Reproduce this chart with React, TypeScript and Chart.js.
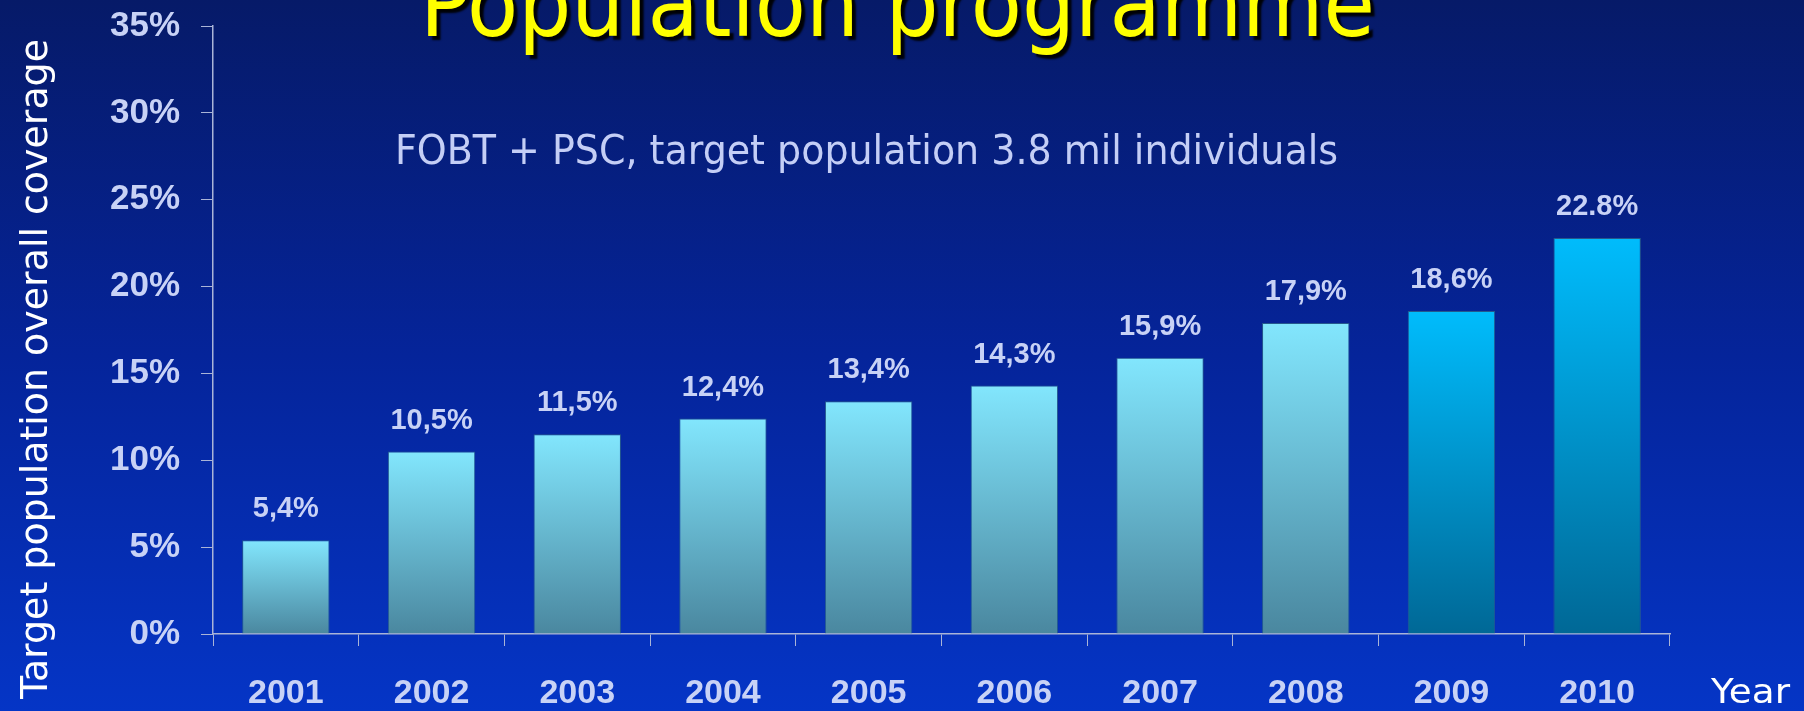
import React, { useEffect, useRef } from "react";
import { Chart, registerables } from "chart.js";

Chart.register(...registerables);

// ---- data ----
const years = ["2001", "2002", "2003", "2004", "2005", "2006", "2007", "2008", "2009", "2010"];
const coverage = [5.4, 10.5, 11.5, 12.4, 13.4, 14.3, 15.9, 17.9, 18.6, 22.8];
const valueLabels = ["5,4%", "10,5%", "11,5%", "12,4%", "13,4%", "14,3%", "15,9%", "17,9%", "18,6%", "22.8%"];
const highlighted = [false, false, false, false, false, false, false, false, true, true];
const yMin = 0;
const yMax = 35;
const yStep = 5;
const titleText = "Population programme";
const subtitleText = "FOBT + PSC, target population 3.8 mil individuals";
const yAxisTitle = "Target population overall coverage";
const xAxisTitle = "Year";

const LAVENDER = "rgb(200,210,246)";
const AXIS = "rgb(170,180,215)";
const CONDENSED = '"DejaVu Sans Condensed", "Liberation Sans Narrow", "DejaVu Sans", sans-serif';

function fitText(
  ctx: CanvasRenderingContext2D,
  text: string,
  x: number,
  y: number,
  width: number,
  font: string,
  color: string,
  shadow = false
) {
  ctx.save();
  ctx.font = font;
  const w = ctx.measureText(text).width;
  ctx.translate(x, y);
  ctx.scale(width / w, 1);
  ctx.textAlign = "left";
  ctx.textBaseline = "alphabetic";
  if (shadow) {
    ctx.shadowColor = "rgba(0,0,0,0.95)";
    ctx.shadowOffsetX = 4;
    ctx.shadowOffsetY = 4;
    ctx.shadowBlur = 2;
  }
  ctx.fillStyle = color;
  ctx.fillText(text, 0, 0);
  ctx.restore();
}

const textPlugin = {
  id: "slideText",
  afterDatasetsDraw(chart: any) {
    const ctx: CanvasRenderingContext2D = chart.ctx;
    // value labels above bars
    const meta = chart.getDatasetMeta(0);
    ctx.save();
    ctx.font = 'bold 29px "Liberation Sans", Arial, sans-serif';
    ctx.fillStyle = LAVENDER;
    ctx.textAlign = "center";
    ctx.textBaseline = "middle";
    meta.data.forEach((el: any, i: number) => {
      ctx.fillText(valueLabels[i], el.x, el.y - 31);
    });
    ctx.restore();

    // title
    fitText(ctx, titleText, 420, 36, 955, `92px ${CONDENSED}`, "#ffff00", true);
    // subtitle
    fitText(ctx, subtitleText, 395, 164, 943, `40px ${CONDENSED}`, "rgb(196,206,246)");
    // x axis title
    fitText(ctx, xAxisTitle, 1711, 703, 79, '34px "DejaVu Sans", Verdana, sans-serif', "#ffffff");

    // y axis title (rotated)
    ctx.save();
    ctx.font = '38px "DejaVu Sans", Verdana, sans-serif';
    const w = ctx.measureText(yAxisTitle).width;
    ctx.translate(47, 369);
    ctx.rotate(-Math.PI / 2);
    ctx.scale(660 / w, 1);
    ctx.textAlign = "center";
    ctx.textBaseline = "alphabetic";
    ctx.fillStyle = "#ffffff";
    ctx.fillText(yAxisTitle, 0, 0);
    ctx.restore();
  },
};

function barGradient(context: any) {
  const chart = context.chart;
  const yScale = chart.scales?.y;
  const i = context.dataIndex;
  const hi = highlighted[i];
  const top = hi ? "#00bcfc" : "#82e6fd";
  const bottom = hi ? "#006896" : "#4a879f";
  if (!yScale || i === undefined) return top;
  const yTop = yScale.getPixelForValue(coverage[i]);
  const yBottom = yScale.getPixelForValue(0);
  if (!isFinite(yTop) || !isFinite(yBottom) || yTop === yBottom) return top;
  const g = chart.ctx.createLinearGradient(0, yTop, 0, yBottom);
  g.addColorStop(0, top);
  g.addColorStop(1, bottom);
  return g;
}

export default function App() {
  const canvasRef = useRef<HTMLCanvasElement | null>(null);

  useEffect(() => {
    if (!canvasRef.current) return;
    const chart = new Chart(canvasRef.current, {
      type: "bar",
      data: {
        labels: years,
        datasets: [
          {
            data: coverage,
            backgroundColor: barGradient,
            borderColor: "rgba(40,95,140,0.9)",
            borderWidth: 1,
            barPercentage: 0.6,
            categoryPercentage: 1,
          },
        ],
      },
      options: {
        animation: false,
        responsive: true,
        maintainAspectRatio: false,
        layout: { padding: { top: 26, right: 134, left: 0, bottom: 0 } },
        plugins: {
          legend: { display: false },
          tooltip: { enabled: false },
          title: { display: false },
        },
        scales: {
          x: {
            type: "category",
            offset: true,
            afterFit: (s: any) => {
              s.height = 77;
              s.paddingLeft = 0;
              s.paddingRight = 0;
            },
            grid: {
              display: true,
              offset: true,
              drawOnChartArea: false,
              drawTicks: true,
              tickLength: 12,
              color: AXIS,
              lineWidth: 1,
            },
            border: { display: true, color: AXIS, width: 1.5 },
            ticks: {
              color: LAVENDER,
              font: { family: '"Liberation Sans", Arial, sans-serif', size: 34, weight: "bold" },
              padding: 27,
              maxRotation: 0,
            },
          },
          y: {
            min: yMin,
            max: yMax,
            afterFit: (s: any) => {
              s.width = 213;
              s.paddingTop = 0;
              s.paddingBottom = 0;
            },
            grid: {
              display: true,
              drawOnChartArea: false,
              drawTicks: true,
              tickLength: 12,
              color: AXIS,
              lineWidth: 1,
            },
            border: { display: true, color: AXIS, width: 1.5 },
            ticks: {
              stepSize: yStep,
              color: LAVENDER,
              font: { family: '"Liberation Sans", Arial, sans-serif', size: 35, weight: "bold" },
              padding: 21,
              callback: (v: any) => `${v}%`,
            },
          },
        },
      },
      plugins: [textPlugin],
    } as any);
    return () => chart.destroy();
  }, []);

  return (
    <div
      style={{
        position: "fixed",
        left: 0,
        top: 0,
        width: 1804,
        height: 711,
        background: "linear-gradient(to bottom, #061a68 0%, #05249a 50%, #0535c6 100%)",
      }}
    >
      <canvas ref={canvasRef} />
    </div>
  );
}
